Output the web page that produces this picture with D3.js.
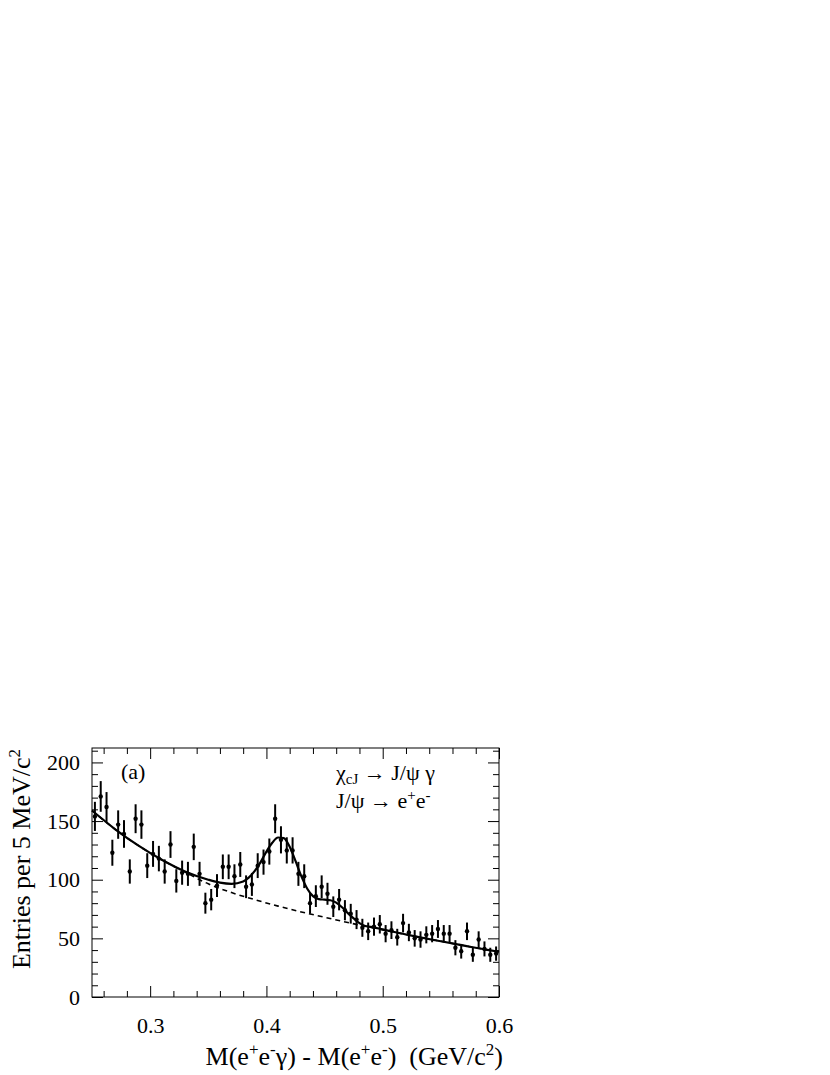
<!DOCTYPE html>
<html><head><meta charset="utf-8">
<script src="https://cdn.jsdelivr.net/npm/d3@7"></script>
<style>
body{margin:0;background:#fff}
svg{display:block}
text{font-family:"Liberation Serif","Times New Roman",serif;fill:#000}
</style>
</head><body>
<svg id="c" width="830" height="1075"></svg>
<script>
// ---- data ----
const binCenters = [0.2525,0.2575,0.2625,0.2675,0.2725,0.2775,0.2825,0.2875,0.2925,0.2975,
  0.3025,0.3075,0.3125,0.3175,0.3225,0.3275,0.3325,0.3375,0.3425,0.3475,
  0.3525,0.3575,0.3625,0.3675,0.3725,0.3775,0.3825,0.3875,0.3925,0.3975,
  0.4025,0.4075,0.4125,0.4175,0.4225,0.4275,0.4325,0.4375,0.4425,0.4475,
  0.4525,0.4575,0.4625,0.4675,0.4725,0.4775,0.4825,0.4875,0.4925,0.4975,
  0.5025,0.5075,0.5125,0.5175,0.5225,0.5275,0.5325,0.5375,0.5425,0.5475,
  0.5525,0.5575,0.5625,0.5675,0.5725,0.5775,0.5825,0.5875,0.5925,0.5975];
const counts = [154,171,162,123,147,139,107,152,147,112,
  122,118,107,130,99,106,105,128,105,80,
  83,95,111,111,103,113,94,96,112,115,
  124,152,134,125,125,105,103,80,86,94,
  88,77,83,74,71,66,59,56,60,62,
  54,57,51,63,55,50,49,53,54,58,
  54,54,42,39,56,36,49,41,36,37];
// total fit (solid)
const fitX = [0.25,0.27,0.29,0.31,0.33,0.35,0.36,0.37,0.38,0.385,0.39,0.395,0.40,0.405,0.41,0.415,0.42,0.425,0.43,0.435,0.44,0.445,0.45,0.455,0.46,0.465,0.47,0.475,0.48,0.485,0.49,0.50,0.51,0.53,0.55,0.57,0.59,0.60];
const fitY = [159,143,129,117,107,100,97.5,96.5,98.5,102,107.5,115,124,131.5,136,135.5,128,116,103,92.5,86,83.5,83,82.5,80.5,76.5,71.5,67,63,60.5,59.8,57.6,55.4,51.3,47.5,43.8,40.2,38.6];
// background (dashed)
const bgX = [0.25,0.27,0.29,0.31,0.33,0.35,0.37,0.39,0.41,0.43,0.45,0.47,0.49,0.51,0.53,0.55,0.57,0.59,0.60];
const bgY = [159,143,129,117,106.5,96.5,89,83,77.5,72.5,68,63.5,59.3,55.3,51.3,47.5,43.8,40.2,38.6];
const xMajor = [0.3,0.4,0.5,0.6];
const xMinor = [0.26,0.28,0.32,0.34,0.36,0.38,0.42,0.44,0.46,0.48,0.52,0.54,0.56,0.58];
const yMajor = [0,50,100,150,200];
const yMinor = [10,20,30,40,60,70,80,90,110,120,130,140,160,170,180,190,210];

// ---- layout ----
const L = 92, R = 499, T = 748, B = 997;
const FONT = '"Liberation Serif","Times New Roman",serif';
const svg = d3.select('#c');
const x = d3.scaleLinear().domain([0.25,0.6]).range([L,R]);
const y = d3.scaleLinear().domain([0,212.3]).range([B,T]);

function styleAxis(g){
  g.attr('font-family',FONT).attr('font-size',22);
  g.select('.domain').remove();
  g.selectAll('line').attr('stroke','#000').attr('stroke-width',1);
  g.selectAll('text').attr('fill','#000').style('font-family',FONT).style('font-size','22px');
}

// bottom
svg.append('g').attr('transform',`translate(0,${B})`)
  .call(d3.axisBottom(x).tickValues(xMajor).tickSizeInner(-11).tickSizeOuter(0).tickPadding(20).tickFormat(d3.format('.1f')))
  .call(styleAxis);
svg.append('g').attr('transform',`translate(0,${B})`)
  .call(d3.axisBottom(x).tickValues(xMinor).tickSizeInner(-6).tickSizeOuter(0).tickFormat(''))
  .call(styleAxis);
// top
svg.append('g').attr('transform',`translate(0,${T})`)
  .call(d3.axisTop(x).tickValues(xMajor).tickSizeInner(-11).tickSizeOuter(0).tickFormat(''))
  .call(styleAxis);
svg.append('g').attr('transform',`translate(0,${T})`)
  .call(d3.axisTop(x).tickValues(xMinor).tickSizeInner(-6).tickSizeOuter(0).tickFormat(''))
  .call(styleAxis);
// left
svg.append('g').attr('transform',`translate(${L},0)`)
  .call(d3.axisLeft(y).tickValues(yMajor).tickSizeInner(-11).tickSizeOuter(0).tickPadding(12).tickFormat(d3.format('d')))
  .call(styleAxis);
svg.append('g').attr('transform',`translate(${L},0)`)
  .call(d3.axisLeft(y).tickValues(yMinor).tickSizeInner(-6).tickSizeOuter(0).tickFormat(''))
  .call(styleAxis);
// right
svg.append('g').attr('transform',`translate(${R},0)`)
  .call(d3.axisRight(y).tickValues(yMajor).tickSizeInner(-11).tickSizeOuter(0).tickFormat(''))
  .call(styleAxis);
svg.append('g').attr('transform',`translate(${R},0)`)
  .call(d3.axisRight(y).tickValues(yMinor).tickSizeInner(-6).tickSizeOuter(0).tickFormat(''))
  .call(styleAxis);

// frame
svg.append('rect').attr('x',L).attr('y',T).attr('width',R-L).attr('height',B-T)
  .attr('fill','none').attr('stroke','#000').attr('stroke-width',1);

// background dashed
const line = d3.line().x(d=>x(d[0])).y(d=>y(d[1])).curve(d3.curveMonotoneX);
svg.append('path').datum(bgX.map((v,i)=>[v,bgY[i]])).attr('d',line)
  .attr('fill','none').attr('stroke','#000').attr('stroke-width',1.6).attr('stroke-dasharray','5,4');
// total fit
svg.append('path').datum(fitX.map((v,i)=>[v,fitY[i]])).attr('d',line)
  .attr('fill','none').attr('stroke','#000').attr('stroke-width',2.2);

// data points with sqrt(N) errors
const pts = binCenters.map((c,i)=>({x:c,n:counts[i]}));
const gp = svg.append('g');
gp.selectAll('line.err').data(pts).join('line').attr('class','err')
  .attr('x1',d=>x(d.x)).attr('x2',d=>x(d.x))
  .attr('y1',d=>y(d.n+Math.sqrt(d.n))).attr('y2',d=>y(d.n-Math.sqrt(d.n)))
  .attr('stroke','#000').attr('stroke-width',2);
gp.selectAll('circle').data(pts).join('circle')
  .attr('cx',d=>x(d.x)).attr('cy',d=>y(d.n)).attr('r',2.2).attr('fill','#000');

// annotations
svg.append('text').attr('x',121).attr('y',779).style('font-size','22px').text('(a)');
const t1 = svg.append('text').attr('x',336).attr('y',780).style('font-size','22px');
t1.append('tspan').text('χ');
t1.append('tspan').attr('dy',4).style('font-size','15px').text('cJ');
t1.append('tspan').attr('dy',-4).text(' → J/ψ γ');
const t2 = svg.append('text').attr('x',336).attr('y',808).style('font-size','22px');
t2.append('tspan').text('J/ψ → e');
t2.append('tspan').attr('dy',-8).style('font-size','15px').text('+');
t2.append('tspan').attr('dy',8).text('e');
t2.append('tspan').attr('dy',-8).style('font-size','15px').text('-');

// axis titles
const xt = svg.append('text').attr('x',503).attr('y',1065).attr('text-anchor','end').style('font-size','26px');
xt.append('tspan').text('M(e');
xt.append('tspan').attr('dy',-10).style('font-size','17px').text('+');
xt.append('tspan').attr('dy',10).text('e');
xt.append('tspan').attr('dy',-10).style('font-size','17px').text('-');
xt.append('tspan').attr('dy',10).text('γ) - M(e');
xt.append('tspan').attr('dy',-10).style('font-size','17px').text('+');
xt.append('tspan').attr('dy',10).text('e');
xt.append('tspan').attr('dy',-10).style('font-size','17px').text('-');
xt.append('tspan').attr('dy',10).text(')\u00a0\u00a0(GeV/c');
xt.append('tspan').attr('dy',-10).style('font-size','17px').text('2');
xt.append('tspan').attr('dy',10).text(')');

const yt = svg.append('text').attr('transform','translate(30,749) rotate(-90)').attr('text-anchor','end').style('font-size','26px');
yt.append('tspan').text('Entries per 5 MeV/c');
yt.append('tspan').attr('dy',-10).style('font-size','17px').text('2');
</script>
</body></html>
